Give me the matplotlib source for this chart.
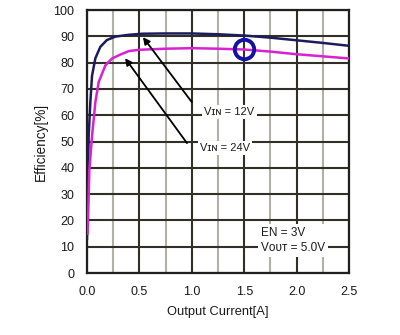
import matplotlib
matplotlib.use("Agg")
import matplotlib.pyplot as plt
from matplotlib.ticker import MultipleLocator

# Data
x_12v = [0.0, 0.005, 0.016, 0.032, 0.048, 0.08, 0.127, 0.19, 0.27, 0.4, 0.53, 0.75, 1.0, 1.25, 1.5, 1.75, 2.0, 2.25, 2.5]
y_12v = [13, 30, 52, 65, 75, 81.7, 86, 88.6, 89.9, 90.6, 91.0, 91.1, 91.1, 90.8, 90.3, 89.5, 88.5, 87.5, 86.4]
x_24v = [0.005, 0.01, 0.022, 0.048, 0.08, 0.112, 0.176, 0.24, 0.32, 0.4, 0.5, 0.75, 1.0, 1.25, 1.5, 1.75, 2.0, 2.25, 2.5]
y_24v = [15, 20, 39, 52, 65, 72.7, 79, 81.6, 83.1, 84.4, 84.9, 85.3, 85.5, 85.3, 85.0, 84.2, 83.2, 82.4, 81.6]
circle_pt = (1.5, 85.0)
x_ticks = [0.0, 0.5, 1.0, 1.5, 2.0, 2.5]
y_ticks = [0, 10, 20, 30, 40, 50, 60, 70, 80, 90, 100]

fam = ['Liberation Sans', 'DejaVu Sans']
plt.rcParams['font.family'] = fam

fig = plt.figure(figsize=(4.0, 3.35), dpi=100)
ax = fig.add_axes([0.2175, 0.185, 0.655, 0.785])
ax.set_xlim(0, 2.5)
ax.set_ylim(0, 100)
ax.set_xticks(x_ticks)
ax.set_xticklabels([f"{v:.1f}" for v in x_ticks])
ax.set_yticks(y_ticks)
ax.xaxis.set_minor_locator(MultipleLocator(0.25))

ax.grid(which='minor', axis='x', color='#b0b0a8', linewidth=1.5)
ax.grid(which='major', axis='both', color='#303028', linewidth=1.5)
ax.set_axisbelow(True)
ax.tick_params(which='both', length=0, labelsize=9, labelcolor='#1a1a1a', pad=9)
for s in ax.spines.values():
    s.set_color('#202020')
    s.set_linewidth(1.6)

ax.plot(x_12v, y_12v, color='#1c1c5c', linewidth=1.8, zorder=3)
ax.plot(x_24v, y_24v, color='#d822d0', linewidth=1.8, zorder=3)
ax.plot([circle_pt[0]], [circle_pt[1]], marker='o', markersize=14, fillstyle='none',
        markeredgewidth=2.8, color='#1212a6', zorder=4)

ap = dict(arrowstyle='-|>', color='black', lw=1.3, mutation_scale=10, shrinkA=0, shrinkB=0)
ax.annotate('', xy=(0.534, 89.7), xytext=(1.0, 65), arrowprops=ap, zorder=5)
ax.annotate('', xy=(0.363, 81.7), xytext=(0.954, 49.4), arrowprops=ap, zorder=5)

bb = dict(facecolor='white', edgecolor='none', pad=1.5)
ax.text(1.36, 61.2, 'V\u026a\u0274 = 12V', fontsize=8, ha='center', va='center',
        color='#1a1a1a', bbox=bb, zorder=6)
ax.text(1.32, 47.5, 'V\u026a\u0274 = 24V', fontsize=8, ha='center', va='center',
        color='#1a1a1a', bbox=bb, zorder=6)
ax.text(1.66, 12.3, 'EN = 3V\nV\u1d0f\u1d1c\u1d1b = 5.0V', fontsize=8.5, ha='left', va='center',
        color='#1a1a1a', linespacing=1.4, bbox=dict(facecolor='white', edgecolor='none', pad=2), zorder=6)

ax.set_xlabel('Output Current[A]', fontsize=9.3, color='#1a1a1a', labelpad=6)
ax.set_ylabel('Efficiency[%]', fontsize=9.8, color='#1a1a1a', labelpad=4)

fig.savefig('out.png', dpi=100)
